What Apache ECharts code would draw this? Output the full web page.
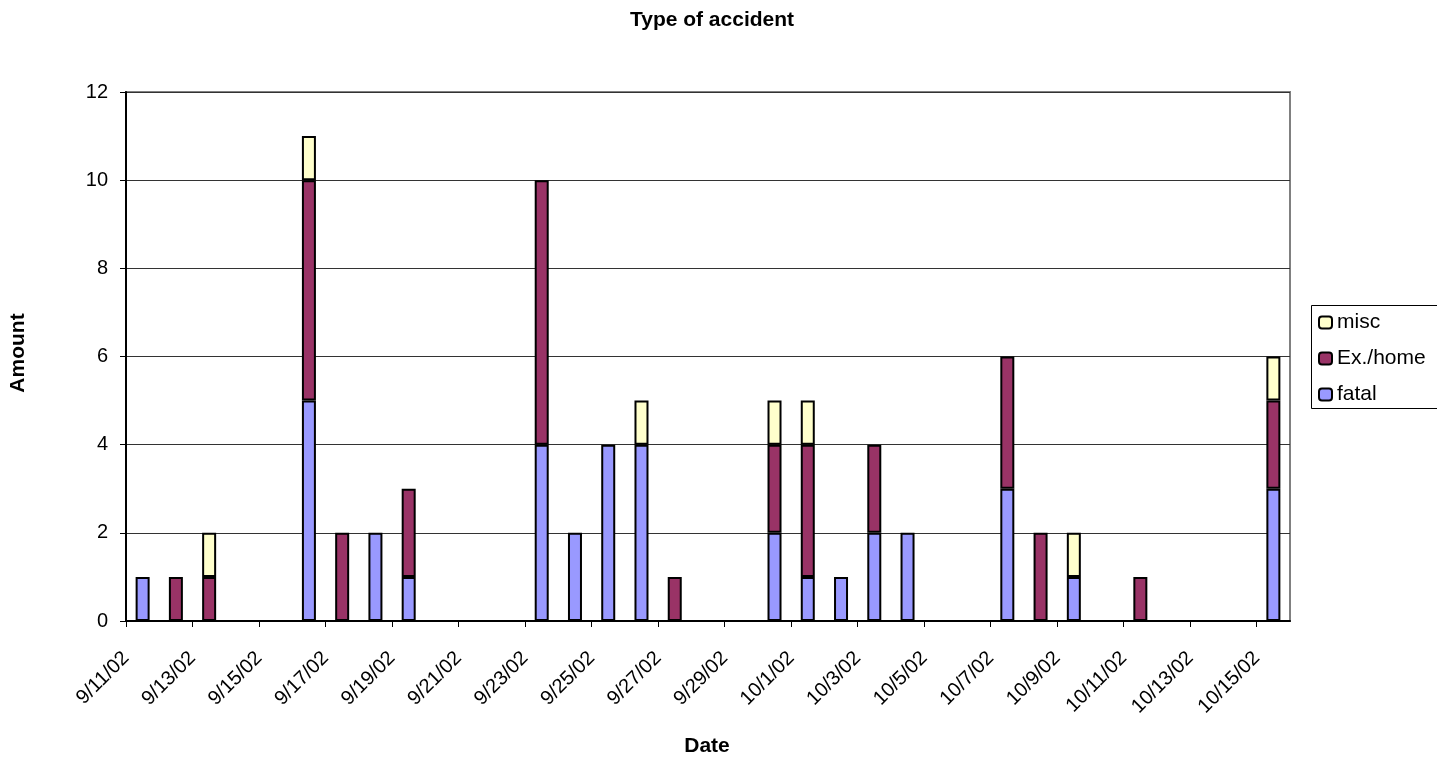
<!DOCTYPE html>
<html>
<head>
<meta charset="utf-8">
<title>Type of accident</title>
<script src="https://cdn.jsdelivr.net/npm/echarts@6/dist/echarts.min.js"></script>
<style>
  html, body { margin: 0; padding: 0; background: #fff; }
  #chart { width: 1437px; height: 758px; }
</style>
</head>
<body>
<div id="chart"></div>
<script>
// One category per day, 9/11/02 through 10/15/02
const categories = [
  '9/11/02', '9/12/02', '9/13/02', '9/14/02', '9/15/02', '9/16/02', '9/17/02',
  '9/18/02', '9/19/02', '9/20/02', '9/21/02', '9/22/02', '9/23/02', '9/24/02',
  '9/25/02', '9/26/02', '9/27/02', '9/28/02', '9/29/02', '9/30/02', '10/1/02',
  '10/2/02', '10/3/02', '10/4/02', '10/5/02', '10/6/02', '10/7/02', '10/8/02',
  '10/9/02', '10/10/02', '10/11/02', '10/12/02', '10/13/02', '10/14/02', '10/15/02'
];

// Accident counts per day, by type
const fatal  = [1, 0, 0, 0, 0, 5, 0, 2, 1, 0, 0, 0, 4, 2, 4, 4, 0, 0, 0, 2, 1, 1, 2, 2, 0, 0, 3, 0, 1, 0, 0, 0, 0, 0, 3];
const exHome = [0, 1, 1, 0, 0, 5, 2, 0, 2, 0, 0, 0, 6, 0, 0, 0, 1, 0, 0, 2, 3, 0, 2, 0, 0, 0, 3, 2, 0, 0, 1, 0, 0, 0, 2];
const misc   = [0, 0, 1, 0, 0, 1, 0, 0, 0, 0, 0, 0, 0, 0, 0, 1, 0, 0, 0, 1, 1, 0, 0, 0, 0, 0, 0, 0, 1, 0, 0, 0, 0, 0, 1];

// Dates labelled on the x axis (every second day)
const tickLabels = [
  '9/11/02', '9/13/02', '9/15/02', '9/17/02', '9/19/02', '9/21/02', '9/23/02',
  '9/25/02', '9/27/02', '9/29/02', '10/1/02', '10/3/02', '10/5/02', '10/7/02',
  '10/9/02', '10/11/02', '10/13/02', '10/15/02'
];
const yTicks = [0, 2, 4, 6, 8, 10, 12];

const FONT = '"Liberation Sans", Arial, Helvetica, sans-serif';
const tickPositions = tickLabels.map(function (d) { return categories.indexOf(d); });

// Empty days draw no segment at all
function segments(arr) {
  return arr.map(function (v) { return v ? v : null; });
}

function barSeries(name, values, color) {
  return {
    name: name,
    type: 'bar',
    stack: 'day',
    xAxisIndex: 0,
    barWidth: 14,
    data: segments(values),
    itemStyle: { color: color, borderColor: '#000', borderWidth: 2 },
    emphasis: { disabled: true },
    animation: false
  };
}

const chart = echarts.init(document.getElementById('chart'), null, { renderer: 'canvas' });

chart.setOption({
  backgroundColor: '#ffffff',
  animation: false,
  textStyle: { fontFamily: FONT },
  grid: {
    left: 126, right: 147, top: 92, bottom: 137,
    show: true, borderColor: '#808080', borderWidth: 2, backgroundColor: '#ffffff'
  },
  legend: {
    orient: 'vertical',
    left: 1318,
    top: 312,
    itemWidth: 13,
    itemHeight: 12,
    itemGap: 15,
    padding: 0,
    data: ['misc', 'Ex./home', 'fatal'],
    textStyle: { fontFamily: FONT, fontSize: 21, color: '#000', padding: [0, 0, 0, 0] },
    itemStyle: { borderColor: '#000', borderWidth: 2 },
    selectedMode: false
  },
  xAxis: [
    {
      type: 'category',
      data: categories,
      boundaryGap: true,
      show: false
    },
    {
      type: 'value',
      position: 'bottom',
      min: 0,
      max: categories.length,
      interval: 1,
      axisLine: { show: true, onZero: false, lineStyle: { color: '#000', width: 2 } },
      axisTick: { show: true, length: 6, customValues: tickPositions, lineStyle: { color: '#000', width: 1 } },
      axisLabel: {
        customValues: tickPositions,
        rotate: 45,
        align: 'right',
        verticalAlign: 'middle',
        margin: 34,
        fontFamily: FONT,
        fontSize: 20,
        color: '#000',
        formatter: function (v) { return categories[Math.round(v)] || ''; }
      },
      splitLine: { show: false }
    }
  ],
  yAxis: {
    type: 'value',
    min: yTicks[0],
    max: yTicks[yTicks.length - 1],
    interval: yTicks[1] - yTicks[0],
    axisLine: { show: true, lineStyle: { color: '#000', width: 2 } },
    axisTick: { show: true, length: 6, lineStyle: { color: '#000', width: 1 } },
    axisLabel: { margin: 18, fontFamily: FONT, fontSize: 20, color: '#000' },
    splitLine: { show: true, lineStyle: { color: '#333', width: 1 } }
  },
  series: [
    barSeries('fatal', fatal, '#9999FF'),
    barSeries('Ex./home', exHome, '#993366'),
    barSeries('misc', misc, '#FFFFCC')
  ],
  graphic: [
    {
      type: 'text', x: 712, y: 20, silent: true,
      style: { text: 'Type of accident', font: 'bold 21px ' + FONT, fill: '#000', align: 'center', verticalAlign: 'middle' }
    },
    {
      type: 'text', x: 18, y: 353, rotation: Math.PI / 2, silent: true,
      style: { text: 'Amount', font: 'bold 21px ' + FONT, fill: '#000', align: 'center', verticalAlign: 'middle' }
    },
    {
      type: 'text', x: 707, y: 746, silent: true,
      style: { text: 'Date', font: 'bold 21px ' + FONT, fill: '#000', align: 'center', verticalAlign: 'middle' }
    },
    {
      type: 'rect', silent: true,
      shape: { x: 1311.5, y: 305.5, width: 130, height: 103 },
      style: { fill: 'none', stroke: '#000', lineWidth: 1 }
    }
  ]
});
</script>
</body>
</html>
